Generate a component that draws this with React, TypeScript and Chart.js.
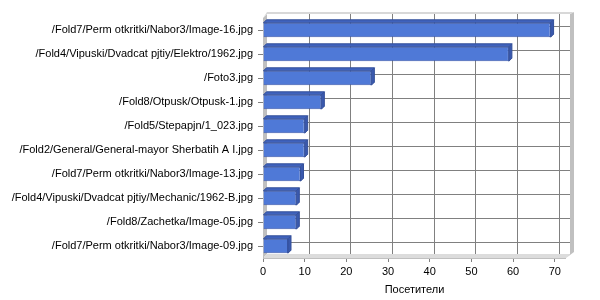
import React, { useEffect, useRef } from "react";
import { Chart, registerables } from "chart.js";

Chart.register(...registerables);

const categories: string[] = [
  "/Fold7/Perm otkritki/Nabor3/Image-16.jpg",
  "/Fold4/Vipuski/Dvadcat pjtiy/Elektro/1962.jpg",
  "/Foto3.jpg",
  "/Fold8/Otpusk/Otpusk-1.jpg",
  "/Fold5/Stepapjn/1_023.jpg",
  "/Fold2/General/General-mayor Sherbatih A I.jpg",
  "/Fold7/Perm otkritki/Nabor3/Image-13.jpg",
  "/Fold4/Vipuski/Dvadcat pjtiy/Mechanic/1962-B.jpg",
  "/Fold8/Zachetka/Image-05.jpg",
  "/Fold7/Perm otkritki/Nabor3/Image-09.jpg",
];
const visitors: number[] = [69, 59, 26, 14, 10, 10, 9, 8, 8, 6];
const xTitle = "Посетители";

const DEPTH = 4;
const BAR_DEPTH = 3;

const threeD = {
  id: "threeD",
  beforeDatasetsDraw(chart: any) {
    const { ctx, chartArea } = chart;
    const { left, right, top, bottom } = chartArea;
    const d = DEPTH;
    const xs = chart.scales.x;
    const ys = chart.scales.y;
    ctx.save();
    // left wall
    ctx.fillStyle = "#c0c0c0";
    ctx.beginPath();
    ctx.moveTo(left, top);
    ctx.lineTo(left + d, top - d);
    ctx.lineTo(left + d, bottom - d);
    ctx.lineTo(left, bottom);
    ctx.closePath();
    ctx.fill();
    // floor
    ctx.fillStyle = "#dcdcdc";
    ctx.beginPath();
    ctx.moveTo(left, bottom);
    ctx.lineTo(left + d, bottom - d);
    ctx.lineTo(right + d, bottom - d);
    ctx.lineTo(right, bottom);
    ctx.closePath();
    ctx.fill();
    ctx.strokeStyle = "#c0c0c0";
    ctx.lineWidth = 1;
    ctx.beginPath();
    ctx.moveTo(left, bottom + 0.5);
    ctx.lineTo(right, bottom + 0.5);
    ctx.stroke();
    // right wall strip
    ctx.fillStyle = "#c0c0c0";
    ctx.beginPath();
    ctx.moveTo(right + d, top - d);
    ctx.lineTo(right + d + 4, top - d - 2);
    ctx.lineTo(right + d + 4, bottom - d - 2);
    ctx.lineTo(right, bottom);
    ctx.lineTo(right + d, bottom - d);
    ctx.closePath();
    ctx.fill();
    // top edge
    ctx.fillStyle = "#d8d8d8";
    ctx.beginPath();
    ctx.moveTo(left, top);
    ctx.lineTo(left + d, top - d - 2);
    ctx.lineTo(right + d + 4, top - d - 2);
    ctx.lineTo(right + d, top - d);
    ctx.lineTo(left + d, top - d);
    ctx.closePath();
    ctx.fill();
    // grid lines on back wall
    ctx.strokeStyle = "#808080";
    ctx.lineWidth = 1;
    ctx.beginPath();
    xs.ticks.forEach((t: any) => {
      if (t.value === 0) return;
      const x = Math.round(xs.getPixelForValue(t.value) + d) + 0.5;
      ctx.moveTo(x, top - d);
      ctx.lineTo(x, bottom - d);
    });
    categories.forEach((_, i) => {
      const y = Math.round(ys.getPixelForValue(i) - d) + 0.5;
      ctx.moveTo(left + d, y);
      ctx.lineTo(right + d, y);
    });
    ctx.stroke();
    ctx.restore();
  },
  afterDatasetsDraw(chart: any) {
    const { ctx } = chart;
    const meta = chart.getDatasetMeta(0);
    const bd = BAR_DEPTH;
    ctx.save();
    meta.data.forEach((bar: any) => {
      const { x, y, base, height } = bar.getProps(["x", "y", "base", "height"], true);
      const t = y - height / 2;
      const b = y + height / 2;
      ctx.fillStyle = "#3f62bd";
      ctx.strokeStyle = "#34509a";
      ctx.lineWidth = 1;
      ctx.beginPath();
      ctx.moveTo(base, t);
      ctx.lineTo(base + bd, t - bd);
      ctx.lineTo(x + bd, t - bd);
      ctx.lineTo(x, t);
      ctx.closePath();
      ctx.fill();
      ctx.stroke();
      ctx.fillStyle = "#3a59ad";
      ctx.beginPath();
      ctx.moveTo(x, t);
      ctx.lineTo(x + bd, t - bd);
      ctx.lineTo(x + bd, b - bd);
      ctx.lineTo(x, b);
      ctx.closePath();
      ctx.fill();
      ctx.stroke();
    });
    ctx.restore();
  },
};

export default function App() {
  const ref = useRef<HTMLCanvasElement | null>(null);
  useEffect(() => {
    document.body.style.margin = "0";
    if (!ref.current) return;
    const font = { family: "'Liberation Sans', Arial, sans-serif", size: 11 };
    const chart = new Chart(ref.current, {
      type: "bar",
      data: {
        labels: categories,
        datasets: [
          {
            label: xTitle,
            data: visitors,
            backgroundColor: "#4f79d7",
            borderColor: "#3a58ab",
            borderWidth: 1,
            barPercentage: 0.6,
            categoryPercentage: 1,
          },
        ],
      },
      options: {
        indexAxis: "y",
        animation: false,
        responsive: false,
        maintainAspectRatio: false,
        layout: { padding: { left: 0, right: 34, top: 18, bottom: 0 } },
        plugins: { legend: { display: false }, tooltip: { enabled: false } },
        scales: {
          x: {
            type: "linear",
            min: 0,
            max: 72.7,
            ticks: { stepSize: 10, includeBounds: false, color: "#000", font, padding: 3 },
            grid: { drawOnChartArea: false, tickLength: 4, color: "#808080" },
            border: { display: false },
            title: { display: true, text: xTitle, color: "#000", font, padding: { top: 0, bottom: 3 } },
            afterFit: (s: any) => {
              s.height = 42;
            },
          },
          y: {
            ticks: { color: "#000", font, padding: 5 },
            grid: { drawOnChartArea: false, tickLength: 5, color: "#808080", offset: false },
            border: { display: true, color: "#808080" },
            afterFit: (s: any) => {
              s.width = 263;
            },
          },
        },
      },
      plugins: [threeD],
    });
    return () => chart.destroy();
  }, []);
  return (
    <div style={{ width: 600, height: 300 }}>
      <canvas ref={ref} width={600} height={300} style={{ display: "block" }} />
    </div>
  );
}
